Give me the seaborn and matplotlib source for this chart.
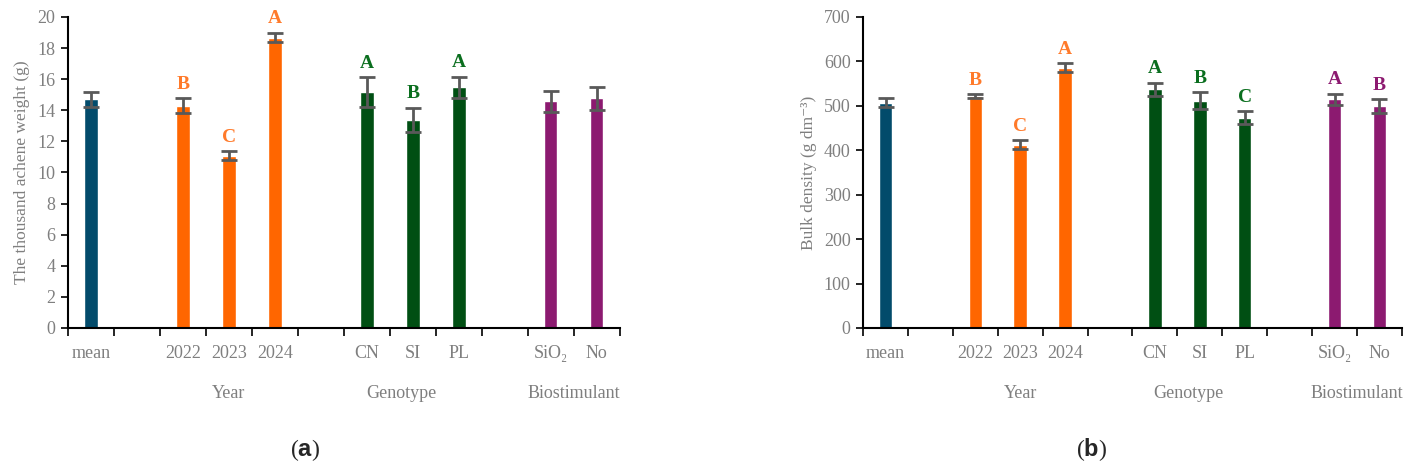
import numpy as np
import pandas as pd
import matplotlib
matplotlib.use("Agg")
import matplotlib.pyplot as plt
import seaborn as sns

# data
slots = ["mean", "_g1", "2022", "2023", "2024", "_g2", "CN", "SI", "PL", "_g3", "SiO₂", "No"]
categories = ["mean", "2022", "2023", "2024", "CN", "SI", "PL", "SiO₂", "No"]
groups = ["mean", "Year", "Year", "Year", "Genotype", "Genotype", "Genotype", "Biostimulant", "Biostimulant"]

tkw_values = [14.7, 14.28, 11.08, 18.68, 15.18, 13.38, 15.47, 14.58, 14.77]
tkw_errors = [0.48, 0.48, 0.28, 0.31, 0.95, 0.79, 0.70, 0.66, 0.73]
tkw_letters = ["", "B", "C", "A", "A", "B", "A", "", ""]

bd_values = [507, 522, 412, 586, 537, 512, 473, 515, 500]
bd_errors = [10, 4, 10, 10, 15, 19, 15, 12, 15]
bd_letters = ["", "B", "C", "A", "A", "B", "C", "A", "B"]

group_labels = ["Year", "Genotype", "Biostimulant"]
group_pos = [3, 6.75, 10.5]

palette = {"mean": "#024B6B", "Year": "#FF6600", "Genotype": "#004F13", "Biostimulant": "#8C1A70"}
letter_colors = {"mean": "#024B6B", "Year": "#FF7A2A", "Genotype": "#0A6E1E", "Biostimulant": "#8C1A70"}

sns.set_style("white")
plt.rcParams["font.family"] = ["Liberation Serif", "DejaVu Serif"]
plt.rcParams["mathtext.fontset"] = "custom"
plt.rcParams["mathtext.rm"] = "Liberation Sans"
plt.rcParams["mathtext.bf"] = "Liberation Sans:bold"

fig = plt.figure(figsize=(14.07, 4.73), dpi=100)
ax1 = fig.add_axes([0.0483, 0.3066, 0.392, 0.6575])
ax2 = fig.add_axes([0.6134, 0.3066, 0.383, 0.6575])

grey = "#7F7F7F"


def draw_panel(ax, values, errors, letters, ymax, ystep, ylabel, pad):
    df = pd.DataFrame({"cat": categories, "val": values, "err": errors,
                       "grp": groups, "let": letters})
    sns.barplot(data=df, x="cat", y="val", hue="grp", order=slots,
                palette=palette, dodge=False, width=0.3, legend=False,
                saturation=1, errorbar=None, ax=ax)
    xs = [slots.index(c) for c in categories]
    ax.errorbar(xs, df["val"], yerr=df["err"], fmt="none", ecolor="#595959",
                elinewidth=2, capsize=5.5, capthick=2, zorder=3)
    for x, v, e, l, g in zip(xs, df["val"], df["err"], df["let"], df["grp"]):
        if l:
            ax.annotate(l, (x, v + e), xytext=(0, 4), textcoords="offset points",
                        ha="center", va="bottom", fontsize=14, fontweight="bold",
                        color=letter_colors[g])
    ax.set_xlim(-0.5, len(slots) - 0.5)
    ax.set_ylim(0, ymax)
    ax.set_yticks(np.arange(0, ymax + ystep / 2, ystep))
    ax.set_xticks(np.arange(-0.5, len(slots)), labels=[""] * (len(slots) + 1))
    ax.set_xticks(xs, labels=categories, minor=True)
    ax.tick_params(axis="x", which="major", length=6, width=1.2, direction="out", bottom=True, color="black")
    ax.tick_params(axis="x", which="minor", length=0, pad=12, labelsize=13, labelcolor=grey)
    ax.tick_params(axis="y", length=5, width=1.2, direction="out", left=True, color="black",
                   labelsize=13, labelcolor=grey, pad=4)
    ax.set_xlabel("")
    ax.set_ylabel(ylabel, fontsize=12.5, color=grey, labelpad=pad)
    for s in ["top", "right"]:
        ax.spines[s].set_visible(False)
    for s in ["left", "bottom"]:
        ax.spines[s].set_color("black")
        ax.spines[s].set_linewidth(1.5)
    for gl, gp in zip(group_labels, group_pos):
        ax.text(gp, -0.21, gl, transform=ax.get_xaxis_transform(), ha="center",
                va="center", fontsize=13, color=grey)


draw_panel(ax1, tkw_values, tkw_errors, tkw_letters, 20, 2, "The thousand achene weight (g)", 5)
draw_panel(ax2, bd_values, bd_errors, bd_letters, 700, 100, "Bulk density (g dm⁻³)", 5)

fig.text(305 / 1407, 1 - 450 / 473, r"($\mathbf{a}$)", ha="center", va="center", fontsize=17)
fig.text(1092 / 1407, 1 - 450 / 473, r"($\mathbf{b}$)", ha="center", va="center", fontsize=17)

fig.savefig("out.png", dpi=100)
